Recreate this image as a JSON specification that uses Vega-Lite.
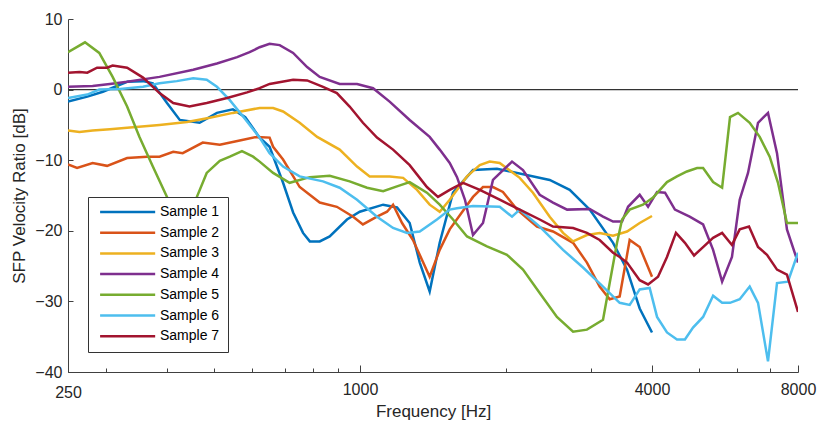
{
  "$schema": "https://vega.github.io/schema/vega-lite/v6.json",
  "width": 730,
  "height": 353,
  "autosize": {"type": "none"},
  "padding": {"left": 68, "top": 19, "right": 20, "bottom": 53},
  "background": "white",
  "config": {
    "view": {"stroke": null},
    "font": "Liberation Sans",
    "axis": {"grid": false, "domainColor": "#404040", "tickColor": "#404040", "labelColor": "#262626", "titleColor": "#262626", "labelFont": "Liberation Sans", "titleFont": "Liberation Sans", "titleFontWeight": "normal", "labelFontSize": 16, "titleFontSize": 17}
  },
  "datasets": {
    "curves": [
      {"s":"Sample 1","f":250,"v":-1.7},{"s":"Sample 1","f":274,"v":-1.0},{"s":"Sample 1","f":295,"v":-0.3},{"s":"Sample 1","f":331,"v":1.1},{"s":"Sample 1","f":357,"v":1.2},{"s":"Sample 1","f":374,"v":0.9},{"s":"Sample 1","f":400,"v":-1.9},{"s":"Sample 1","f":425,"v":-4.3},{"s":"Sample 1","f":467,"v":-4.7},{"s":"Sample 1","f":507,"v":-3.3},{"s":"Sample 1","f":547,"v":-2.8},{"s":"Sample 1","f":580,"v":-3.9},{"s":"Sample 1","f":621,"v":-6.8},{"s":"Sample 1","f":651,"v":-8.1},{"s":"Sample 1","f":694,"v":-13.2},{"s":"Sample 1","f":728,"v":-17.4},{"s":"Sample 1","f":763,"v":-20.3},{"s":"Sample 1","f":788,"v":-21.5},{"s":"Sample 1","f":826,"v":-21.5},{"s":"Sample 1","f":866,"v":-20.8},{"s":"Sample 1","f":940,"v":-18.4},{"s":"Sample 1","f":999,"v":-17.3},{"s":"Sample 1","f":1116,"v":-16.3},{"s":"Sample 1","f":1192,"v":-16.7},{"s":"Sample 1","f":1266,"v":-18.9},{"s":"Sample 1","f":1328,"v":-24.5},{"s":"Sample 1","f":1392,"v":-28.6},{"s":"Sample 1","f":1460,"v":-21.7},{"s":"Sample 1","f":1555,"v":-14.6},{"s":"Sample 1","f":1710,"v":-11.4},{"s":"Sample 1","f":1916,"v":-11.2},{"s":"Sample 1","f":2461,"v":-12.8},{"s":"Sample 1","f":2706,"v":-14.2},{"s":"Sample 1","f":2976,"v":-17.0},{"s":"Sample 1","f":3325,"v":-21.7},{"s":"Sample 1","f":3553,"v":-25.5},{"s":"Sample 1","f":3773,"v":-31.0},{"s":"Sample 1","f":4000,"v":-34.4},
      {"s":"Sample 2","f":250,"v":-10.6},{"s":"Sample 2","f":261,"v":-11.1},{"s":"Sample 2","f":281,"v":-10.4},{"s":"Sample 2","f":301,"v":-10.8},{"s":"Sample 2","f":331,"v":-9.7},{"s":"Sample 2","f":364,"v":-9.5},{"s":"Sample 2","f":386,"v":-9.5},{"s":"Sample 2","f":412,"v":-8.8},{"s":"Sample 2","f":431,"v":-9.0},{"s":"Sample 2","f":474,"v":-7.5},{"s":"Sample 2","f":514,"v":-7.8},{"s":"Sample 2","f":565,"v":-7.2},{"s":"Sample 2","f":613,"v":-6.7},{"s":"Sample 2","f":651,"v":-6.8},{"s":"Sample 2","f":662,"v":-8.1},{"s":"Sample 2","f":694,"v":-9.9},{"s":"Sample 2","f":751,"v":-13.8},{"s":"Sample 2","f":826,"v":-16.0},{"s":"Sample 2","f":896,"v":-16.6},{"s":"Sample 2","f":968,"v":-18.0},{"s":"Sample 2","f":1014,"v":-19.1},{"s":"Sample 2","f":1084,"v":-18.0},{"s":"Sample 2","f":1137,"v":-17.3},{"s":"Sample 2","f":1170,"v":-16.3},{"s":"Sample 2","f":1221,"v":-18.9},{"s":"Sample 2","f":1286,"v":-21.3},{"s":"Sample 2","f":1392,"v":-26.5},{"s":"Sample 2","f":1460,"v":-22.7},{"s":"Sample 2","f":1531,"v":-19.8},{"s":"Sample 2","f":1710,"v":-15.2},{"s":"Sample 2","f":1793,"v":-13.8},{"s":"Sample 2","f":1880,"v":-13.8},{"s":"Sample 2","f":1971,"v":-14.5},{"s":"Sample 2","f":2108,"v":-17.0},{"s":"Sample 2","f":2317,"v":-19.4},{"s":"Sample 2","f":2500,"v":-20.1},{"s":"Sample 2","f":2750,"v":-21.7},{"s":"Sample 2","f":2937,"v":-24.5},{"s":"Sample 2","f":3120,"v":-27.9},{"s":"Sample 2","f":3272,"v":-29.7},{"s":"Sample 2","f":3431,"v":-29.3},{"s":"Sample 2","f":3598,"v":-21.3},{"s":"Sample 2","f":3773,"v":-22.3},{"s":"Sample 2","f":4000,"v":-26.5},
      {"s":"Sample 3","f":250,"v":-5.8},{"s":"Sample 3","f":264,"v":-6.0},{"s":"Sample 3","f":281,"v":-5.8},{"s":"Sample 3","f":305,"v":-5.6},{"s":"Sample 3","f":331,"v":-5.4},{"s":"Sample 3","f":386,"v":-5.0},{"s":"Sample 3","f":440,"v":-4.6},{"s":"Sample 3","f":490,"v":-4.0},{"s":"Sample 3","f":547,"v":-3.3},{"s":"Sample 3","f":621,"v":-2.6},{"s":"Sample 3","f":662,"v":-2.6},{"s":"Sample 3","f":694,"v":-3.1},{"s":"Sample 3","f":751,"v":-4.7},{"s":"Sample 3","f":816,"v":-6.7},{"s":"Sample 3","f":908,"v":-8.5},{"s":"Sample 3","f":986,"v":-10.9},{"s":"Sample 3","f":1047,"v":-12.3},{"s":"Sample 3","f":1151,"v":-12.3},{"s":"Sample 3","f":1227,"v":-12.5},{"s":"Sample 3","f":1311,"v":-14.2},{"s":"Sample 3","f":1392,"v":-16.3},{"s":"Sample 3","f":1460,"v":-17.3},{"s":"Sample 3","f":1531,"v":-15.6},{"s":"Sample 3","f":1662,"v":-12.3},{"s":"Sample 3","f":1766,"v":-10.7},{"s":"Sample 3","f":1851,"v":-10.2},{"s":"Sample 3","f":1941,"v":-10.4},{"s":"Sample 3","f":2135,"v":-12.5},{"s":"Sample 3","f":2273,"v":-14.6},{"s":"Sample 3","f":2461,"v":-18.0},{"s":"Sample 3","f":2622,"v":-20.3},{"s":"Sample 3","f":2750,"v":-21.5},{"s":"Sample 3","f":2937,"v":-20.6},{"s":"Sample 3","f":3120,"v":-20.3},{"s":"Sample 3","f":3325,"v":-20.7},{"s":"Sample 3","f":3553,"v":-20.1},{"s":"Sample 3","f":3773,"v":-18.9},{"s":"Sample 3","f":4000,"v":-17.9},
      {"s":"Sample 4","f":250,"v":0.4},{"s":"Sample 4","f":281,"v":0.5},{"s":"Sample 4","f":305,"v":0.8},{"s":"Sample 4","f":331,"v":1.1},{"s":"Sample 4","f":386,"v":1.8},{"s":"Sample 4","f":453,"v":2.8},{"s":"Sample 4","f":507,"v":3.7},{"s":"Sample 4","f":558,"v":4.6},{"s":"Sample 4","f":592,"v":5.3},{"s":"Sample 4","f":621,"v":6.0},{"s":"Sample 4","f":651,"v":6.5},{"s":"Sample 4","f":683,"v":6.3},{"s":"Sample 4","f":728,"v":5.2},{"s":"Sample 4","f":778,"v":3.2},{"s":"Sample 4","f":826,"v":1.8},{"s":"Sample 4","f":908,"v":0.8},{"s":"Sample 4","f":986,"v":0.8},{"s":"Sample 4","f":1064,"v":0.2},{"s":"Sample 4","f":1151,"v":-1.7},{"s":"Sample 4","f":1266,"v":-4.3},{"s":"Sample 4","f":1392,"v":-6.7},{"s":"Sample 4","f":1460,"v":-8.5},{"s":"Sample 4","f":1531,"v":-10.4},{"s":"Sample 4","f":1585,"v":-12.4},{"s":"Sample 4","f":1646,"v":-15.6},{"s":"Sample 4","f":1710,"v":-20.6},{"s":"Sample 4","f":1793,"v":-18.9},{"s":"Sample 4","f":1880,"v":-12.8},{"s":"Sample 4","f":2058,"v":-10.2},{"s":"Sample 4","f":2168,"v":-11.4},{"s":"Sample 4","f":2347,"v":-14.9},{"s":"Sample 4","f":2500,"v":-16.0},{"s":"Sample 4","f":2673,"v":-17.0},{"s":"Sample 4","f":2976,"v":-16.9},{"s":"Sample 4","f":3170,"v":-18.0},{"s":"Sample 4","f":3325,"v":-18.7},{"s":"Sample 4","f":3470,"v":-18.7},{"s":"Sample 4","f":3570,"v":-16.6},{"s":"Sample 4","f":3773,"v":-14.9},{"s":"Sample 4","f":3926,"v":-16.6},{"s":"Sample 4","f":4097,"v":-14.5},{"s":"Sample 4","f":4255,"v":-14.6},{"s":"Sample 4","f":4460,"v":-17.0},{"s":"Sample 4","f":4783,"v":-18.0},{"s":"Sample 4","f":5098,"v":-19.1},{"s":"Sample 4","f":5346,"v":-22.7},{"s":"Sample 4","f":5580,"v":-27.2},{"s":"Sample 4","f":5847,"v":-23.7},{"s":"Sample 4","f":6066,"v":-15.6},{"s":"Sample 4","f":6310,"v":-11.8},{"s":"Sample 4","f":6617,"v":-4.7},{"s":"Sample 4","f":6938,"v":-3.3},{"s":"Sample 4","f":7241,"v":-9.0},{"s":"Sample 4","f":7591,"v":-19.8},{"s":"Sample 4","f":8000,"v":-24.5},
      {"s":"Sample 5","f":250,"v":5.3},{"s":"Sample 5","f":271,"v":6.7},{"s":"Sample 5","f":290,"v":5.2},{"s":"Sample 5","f":309,"v":1.8},{"s":"Sample 5","f":331,"v":-2.4},{"s":"Sample 5","f":351,"v":-6.7},{"s":"Sample 5","f":374,"v":-10.9},{"s":"Sample 5","f":400,"v":-15.2},{"s":"Sample 5","f":430,"v":-20.5},{"s":"Sample 5","f":461,"v":-15.2},{"s":"Sample 5","f":483,"v":-11.8},{"s":"Sample 5","f":514,"v":-10.1},{"s":"Sample 5","f":539,"v":-9.5},{"s":"Sample 5","f":571,"v":-8.7},{"s":"Sample 5","f":602,"v":-9.5},{"s":"Sample 5","f":621,"v":-10.2},{"s":"Sample 5","f":662,"v":-11.8},{"s":"Sample 5","f":716,"v":-13.2},{"s":"Sample 5","f":788,"v":-12.4},{"s":"Sample 5","f":866,"v":-12.2},{"s":"Sample 5","f":952,"v":-13.0},{"s":"Sample 5","f":1034,"v":-13.9},{"s":"Sample 5","f":1116,"v":-14.4},{"s":"Sample 5","f":1192,"v":-13.7},{"s":"Sample 5","f":1266,"v":-13.1},{"s":"Sample 5","f":1374,"v":-14.6},{"s":"Sample 5","f":1460,"v":-16.3},{"s":"Sample 5","f":1555,"v":-18.4},{"s":"Sample 5","f":1662,"v":-20.8},{"s":"Sample 5","f":1827,"v":-22.2},{"s":"Sample 5","f":2009,"v":-23.4},{"s":"Sample 5","f":2168,"v":-25.5},{"s":"Sample 5","f":2347,"v":-28.8},{"s":"Sample 5","f":2547,"v":-32.2},{"s":"Sample 5","f":2750,"v":-34.3},{"s":"Sample 5","f":2937,"v":-34.0},{"s":"Sample 5","f":3170,"v":-32.6},{"s":"Sample 5","f":3272,"v":-27.4},{"s":"Sample 5","f":3388,"v":-21.7},{"s":"Sample 5","f":3470,"v":-18.4},{"s":"Sample 5","f":3598,"v":-17.0},{"s":"Sample 5","f":3832,"v":-16.3},{"s":"Sample 5","f":4020,"v":-15.3},{"s":"Sample 5","f":4295,"v":-13.1},{"s":"Sample 5","f":4504,"v":-12.3},{"s":"Sample 5","f":4722,"v":-11.6},{"s":"Sample 5","f":4955,"v":-11.1},{"s":"Sample 5","f":5098,"v":-11.1},{"s":"Sample 5","f":5346,"v":-13.1},{"s":"Sample 5","f":5580,"v":-13.9},{"s":"Sample 5","f":5793,"v":-3.9},{"s":"Sample 5","f":6017,"v":-3.3},{"s":"Sample 5","f":6361,"v":-4.7},{"s":"Sample 5","f":6670,"v":-6.7},{"s":"Sample 5","f":6994,"v":-9.5},{"s":"Sample 5","f":7275,"v":-13.2},{"s":"Sample 5","f":7591,"v":-18.9},{"s":"Sample 5","f":8000,"v":-18.9},
      {"s":"Sample 6","f":250,"v":-1.2},{"s":"Sample 6","f":274,"v":-0.7},{"s":"Sample 6","f":290,"v":0.0},{"s":"Sample 6","f":320,"v":0.1},{"s":"Sample 6","f":357,"v":0.4},{"s":"Sample 6","f":386,"v":0.9},{"s":"Sample 6","f":419,"v":1.2},{"s":"Sample 6","f":453,"v":1.6},{"s":"Sample 6","f":483,"v":1.4},{"s":"Sample 6","f":507,"v":0.4},{"s":"Sample 6","f":539,"v":-1.5},{"s":"Sample 6","f":574,"v":-3.8},{"s":"Sample 6","f":621,"v":-6.8},{"s":"Sample 6","f":651,"v":-9.0},{"s":"Sample 6","f":694,"v":-10.9},{"s":"Sample 6","f":751,"v":-12.3},{"s":"Sample 6","f":839,"v":-13.0},{"s":"Sample 6","f":908,"v":-13.9},{"s":"Sample 6","f":986,"v":-15.6},{"s":"Sample 6","f":1084,"v":-18.0},{"s":"Sample 6","f":1170,"v":-19.6},{"s":"Sample 6","f":1250,"v":-20.3},{"s":"Sample 6","f":1328,"v":-20.1},{"s":"Sample 6","f":1441,"v":-18.4},{"s":"Sample 6","f":1531,"v":-17.0},{"s":"Sample 6","f":1585,"v":-16.8},{"s":"Sample 6","f":1710,"v":-16.5},{"s":"Sample 6","f":1941,"v":-16.6},{"s":"Sample 6","f":2058,"v":-18.0},{"s":"Sample 6","f":2135,"v":-17.0},{"s":"Sample 6","f":2347,"v":-19.4},{"s":"Sample 6","f":2622,"v":-22.7},{"s":"Sample 6","f":2883,"v":-25.2},{"s":"Sample 6","f":3170,"v":-27.9},{"s":"Sample 6","f":3431,"v":-30.2},{"s":"Sample 6","f":3598,"v":-30.5},{"s":"Sample 6","f":3773,"v":-28.3},{"s":"Sample 6","f":3956,"v":-28.1},{"s":"Sample 6","f":4097,"v":-32.2},{"s":"Sample 6","f":4295,"v":-34.4},{"s":"Sample 6","f":4504,"v":-35.4},{"s":"Sample 6","f":4677,"v":-35.4},{"s":"Sample 6","f":4860,"v":-33.7},{"s":"Sample 6","f":5098,"v":-32.2},{"s":"Sample 6","f":5346,"v":-29.2},{"s":"Sample 6","f":5580,"v":-30.2},{"s":"Sample 6","f":5793,"v":-30.2},{"s":"Sample 6","f":6066,"v":-29.7},{"s":"Sample 6","f":6361,"v":-27.9},{"s":"Sample 6","f":6617,"v":-30.2},{"s":"Sample 6","f":6938,"v":-38.5},{"s":"Sample 6","f":7241,"v":-27.4},{"s":"Sample 6","f":7627,"v":-27.2},{"s":"Sample 6","f":8000,"v":-23.1},
      {"s":"Sample 7","f":250,"v":2.4},{"s":"Sample 7","f":264,"v":2.5},{"s":"Sample 7","f":274,"v":2.4},{"s":"Sample 7","f":287,"v":3.1},{"s":"Sample 7","f":301,"v":3.1},{"s":"Sample 7","f":309,"v":3.4},{"s":"Sample 7","f":331,"v":3.1},{"s":"Sample 7","f":357,"v":1.7},{"s":"Sample 7","f":386,"v":-0.5},{"s":"Sample 7","f":412,"v":-1.9},{"s":"Sample 7","f":445,"v":-2.4},{"s":"Sample 7","f":483,"v":-1.9},{"s":"Sample 7","f":532,"v":-1.2},{"s":"Sample 7","f":585,"v":-0.4},{"s":"Sample 7","f":621,"v":0.2},{"s":"Sample 7","f":651,"v":0.8},{"s":"Sample 7","f":728,"v":1.4},{"s":"Sample 7","f":778,"v":1.3},{"s":"Sample 7","f":839,"v":0.4},{"s":"Sample 7","f":896,"v":-0.5},{"s":"Sample 7","f":952,"v":-2.4},{"s":"Sample 7","f":1014,"v":-4.7},{"s":"Sample 7","f":1084,"v":-6.8},{"s":"Sample 7","f":1170,"v":-8.5},{"s":"Sample 7","f":1266,"v":-10.7},{"s":"Sample 7","f":1374,"v":-13.8},{"s":"Sample 7","f":1448,"v":-15.2},{"s":"Sample 7","f":1531,"v":-14.2},{"s":"Sample 7","f":1631,"v":-13.2},{"s":"Sample 7","f":1766,"v":-14.2},{"s":"Sample 7","f":1941,"v":-15.6},{"s":"Sample 7","f":2135,"v":-17.0},{"s":"Sample 7","f":2347,"v":-18.4},{"s":"Sample 7","f":2500,"v":-19.4},{"s":"Sample 7","f":2750,"v":-19.6},{"s":"Sample 7","f":2937,"v":-20.3},{"s":"Sample 7","f":3120,"v":-21.3},{"s":"Sample 7","f":3325,"v":-23.1},{"s":"Sample 7","f":3431,"v":-23.7},{"s":"Sample 7","f":3553,"v":-24.5},{"s":"Sample 7","f":3773,"v":-27.0},{"s":"Sample 7","f":3926,"v":-27.6},{"s":"Sample 7","f":4116,"v":-26.5},{"s":"Sample 7","f":4295,"v":-23.7},{"s":"Sample 7","f":4482,"v":-20.3},{"s":"Sample 7","f":4677,"v":-21.7},{"s":"Sample 7","f":4884,"v":-23.5},{"s":"Sample 7","f":5098,"v":-22.3},{"s":"Sample 7","f":5346,"v":-21.0},{"s":"Sample 7","f":5580,"v":-20.3},{"s":"Sample 7","f":5847,"v":-22.0},{"s":"Sample 7","f":6066,"v":-19.8},{"s":"Sample 7","f":6340,"v":-19.4},{"s":"Sample 7","f":6617,"v":-22.3},{"s":"Sample 7","f":6905,"v":-23.4},{"s":"Sample 7","f":7241,"v":-25.5},{"s":"Sample 7","f":7591,"v":-26.2},{"s":"Sample 7","f":8000,"v":-31.5}
    ]
  },
  "layer": [
    {
      "data": {"values": [{"z": 0}]},
      "mark": {"type": "rule", "color": "#333333", "strokeWidth": 1.2},
      "encoding": {"y": {"field": "z", "type": "quantitative", "scale": {"domain": [-40, 10], "nice": false}}}
    },
    {
      "data": {"name": "curves"},
      "mark": {"type": "line", "strokeWidth": 2.5, "clip": true},
      "encoding": {
        "x": {
          "field": "f", "type": "quantitative",
          "scale": {"type": "log", "domain": [250, 8000], "nice": false},
          "axis": {
            "title": "Frequency [Hz]",
            "values": [250, 300, 400, 500, 600, 700, 800, 900, 1000, 2000, 3000, 4000, 5000, 6000, 7000, 8000],
            "format": "d",
            "labelExpr": "(datum.value == 250 || datum.value == 1000 || datum.value == 4000 || datum.value == 8000) ? datum.label : ''",
            "labelOverlap": false,
            "labelFlush": false,
            "tickSize": {"condition": {"test": "datum.value == 1000 || datum.value == 4000 || datum.value == 8000", "value": -7}, "value": -4},
            "labelPadding": 16,
            "titlePadding": 3
          }
        },
        "y": {
          "field": "v", "type": "quantitative",
          "scale": {"domain": [-40, 10], "nice": false},
          "axis": {"title": "SFP Velocity Ratio [dB]", "values": [-40, -30, -20, -10, 0, 10], "tickSize": -5, "labelPadding": 11, "titlePadding": 6}
        },
        "color": {
          "field": "s", "type": "nominal",
          "scale": {"domain": ["Sample 1","Sample 2","Sample 3","Sample 4","Sample 5","Sample 6","Sample 7"], "range": ["#0072BD","#D95319","#EDB120","#7E2F8E","#77AC30","#4DBEEE","#A2142F"]},
          "legend": {
            "orient": "none", "legendX": 20, "legendY": 178, "title": null,
            "strokeColor": "#333333", "fillColor": "white", "padding": 8,
            "symbolType": "M-1,0L18,0", "symbolSize": 33.6, "symbolStrokeWidth": 2.5,
            "labelFontSize": 14, "labelFont": "Liberation Sans", "labelColor": "#000000", "labelOffset": 50, "rowPadding": 6.7
          }
        }
      }
    }
  ]
}
